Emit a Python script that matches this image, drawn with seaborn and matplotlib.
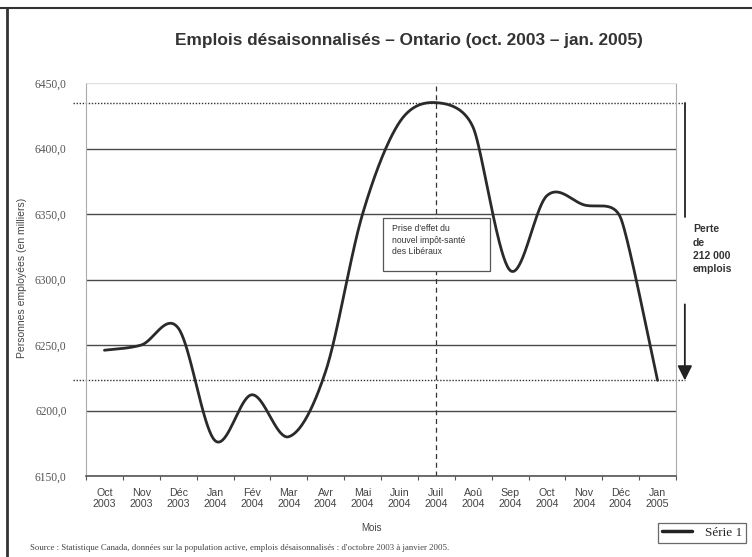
import numpy as np
import pandas as pd
import matplotlib
matplotlib.use("Agg")
import matplotlib.pyplot as plt
import matplotlib.transforms as mtransforms
from matplotlib.lines import Line2D
from matplotlib.patches import Rectangle
import seaborn as sns

# Monthly seasonally adjusted employment, Ontario (thousands)
mois = ["Oct", "Nov", "Déc", "Jan", "Fév", "Mar", "Avr", "Mai",
        "Juin", "Juil", "Aoû", "Sep", "Oct", "Nov", "Déc", "Jan"]
annees = ["2003", "2003", "2003", "2004", "2004", "2004", "2004", "2004",
          "2004", "2004", "2004", "2004", "2004", "2004", "2004", "2005"]
emplois = [6246, 6250, 6263, 6177, 6212, 6180, 6230, 6350,
           6420, 6435, 6416, 6307, 6364, 6357, 6347, 6223]
y_ticks = [6150, 6200, 6250, 6300, 6350, 6400, 6450]
sommet = 6435
fin = 6223

sns.set_theme(style="white")
plt.rcParams["font.family"] = ["Liberation Sans", "DejaVu Sans"]


def lisser(valeurs, sx=36.9, sy=1.31, pas=40):
    """Smooth Bezier curve through every point.  Control arms follow the
    neighbours (tension 1/6) but never exceed half of the shorter adjacent
    segment, measured on screen (sx, sy px per unit)."""
    v = np.asarray(valeurs, dtype=float)
    n = len(v)
    P = np.column_stack([np.arange(n) * sx, v * sy])
    ext = np.vstack([P[0], P, P[-1]])
    bras = []
    for i in range(n):
        a, p, b = ext[i], ext[i + 1], ext[i + 2]
        d02 = np.hypot(*(b - a))
        d01 = np.hypot(*(p - a))
        d12 = np.hypot(*(b - p))
        f = 1.0 / 6.0
        courts = [d for d in (d01, d12) if d > 0]
        if d02 > 0 and courts and f * d02 > min(courts) / 2:
            f = min(courts) / (2 * d02)
        bras.append(f * (b - a))
    t = np.linspace(0, 1, pas, endpoint=False)[:, None]
    morceaux = []
    for i in range(n - 1):
        p1, p2 = P[i], P[i + 1]
        b1 = p1 + bras[i]
        b2 = p2 - bras[i + 1]
        morceaux.append((1 - t) ** 3 * p1 + 3 * (1 - t) ** 2 * t * b1
                        + 3 * (1 - t) * t ** 2 * b2 + t ** 3 * p2)
    morceaux.append(P[-1][None, :])
    C = np.vstack(morceaux)
    return C[:, 0] / sx, C[:, 1] / sy


xs, ys = lisser(emplois)
courbe = pd.DataFrame({"position": xs, "emplois": ys})

fig = plt.figure(figsize=(7.52, 5.57), dpi=100)
ax = fig.add_axes([86 / 752, 81 / 557, 590 / 752, 393 / 557])

# Horizontal gridlines
for v in y_ticks:
    ax.axhline(v, color="#e0e0e0" if v == 6450 else "#4a4a4a",
               lw=1.0, zorder=1)

# Reference dotted lines for peak and last value
blend = mtransforms.blended_transform_factory(ax.transAxes, ax.transData)
for v in (sommet, fin):
    ax.plot([-0.022, 1.015], [v, v], transform=blend, color="#333333",
            lw=1.0, ls=(0, (1, 1.2)), clip_on=False, zorder=2)

# Dashed marker at July 2004
ax.axvline(9, color="#333333", lw=0.9, ls=(0, (4, 3)), zorder=2)

sns.lineplot(data=courbe, x="position", y="emplois", ax=ax, sort=False,
             estimator=None, color="#2a2a2a", lw=2.0, zorder=4, legend=False)

# Annotation box
ax.add_patch(Rectangle((7.55, 6306.5), 2.9, 40.5, facecolor="white",
                       edgecolor="#555555", lw=0.9, zorder=5))
ax.text(7.8, 6342.5, "Prise d'effet du\nnouvel impôt-santé\ndes Libéraux",
        fontsize=6.2, color="#333333", va="top", ha="left",
        linespacing=1.4, zorder=6)

# Loss arrow at right
ax.plot([1.015, 1.015], [sommet, 6347.5], transform=blend, color="#222222",
        lw=1.3, clip_on=False)
ax.annotate("", xy=(1.015, fin), xytext=(1.015, 6281),
            xycoords=blend, textcoords=blend,
            arrowprops=dict(arrowstyle="-|>", color="#222222", lw=1.3,
                            mutation_scale=22, shrinkA=0, shrinkB=0))
ax.text(1.029, 6342, "Perte\nde\n212 000\nemplois", transform=blend,
        fontsize=7.5, fontweight="bold", color="#333333", va="top",
        ha="left", linespacing=1.4)

ax.set_xlim(-0.5, 15.5)
ax.set_ylim(6150, 6450)
ax.set_yticks(y_ticks)
ax.set_yticklabels([f"{v},0" for v in y_ticks], family="Liberation Serif",
                   fontsize=8.3, color="#555555")
ax.set_xticks(range(len(mois)))
ax.set_xticklabels([f"{m}\n{a}" for m, a in zip(mois, annees)],
                   fontsize=7.7, color="#444444", linespacing=1.1)
ax.set_xticks(np.arange(-0.5, 16, 1), minor=True)
ax.tick_params(axis="x", which="major", length=0, pad=9)
ax.tick_params(axis="x", which="minor", length=3, width=0.8,
               color="#555555", direction="out", bottom=True)
ax.tick_params(axis="y", length=0, pad=14)
ax.set_xlabel("")
ax.set_ylabel("")

for side in ("left", "right"):
    ax.spines[side].set_color("#aaaaaa")
    ax.spines[side].set_linestyle((0, (1, 1)))
    ax.spines[side].set_linewidth(0.8)
ax.spines["top"].set_visible(False)
ax.spines["bottom"].set_color("#555555")
ax.spines["bottom"].set_linewidth(1.2)

fig.text(409 / 752, 1 - 40 / 557,
         "Emplois désaisonnalisés – Ontario (oct. 2003 – jan. 2005)",
         fontsize=12.4, fontweight="bold", color="#333333",
         ha="center", va="center")
fig.text(22 / 752, 1 - 278 / 557, "Personnes employées (en milliers)",
         rotation=90, fontsize=7.5, color="#444444", ha="center", va="center")
fig.text(372 / 752, 1 - 528 / 557, "Mois", fontsize=7, color="#444444",
         ha="center", va="center")
fig.text(30 / 752, 1 - 548 / 557,
         "Source : Statistique Canada, données sur la population active, "
         "emplois désaisonnalisés : d'octobre 2003 à janvier 2005.",
         family="Liberation Serif", fontsize=6.3, color="#444444",
         ha="left", va="center")

leg = fig.legend(handles=[Line2D([], [], color="#222222", lw=2.5)],
                 labels=["Série 1"], loc="upper left",
                 bbox_to_anchor=(651 / 752, 1 - 516 / 557),
                 bbox_transform=fig.transFigure, frameon=True, fancybox=False,
                 handlelength=2.3, borderpad=0.3, handletextpad=1.0,
                 prop={"family": "Liberation Serif", "size": 9.5})
leg.get_frame().set_edgecolor("#444444")
leg.get_frame().set_linewidth(0.9)

# Page border lines
fig.add_artist(Line2D([7 / 752, 7 / 752], [0, 1 - 8 / 557],
                      transform=fig.transFigure, color="#333333", lw=2))
fig.add_artist(Line2D([0, 1], [1 - 8 / 557, 1 - 8 / 557],
                      transform=fig.transFigure, color="#333333", lw=1.5))

fig.savefig("out.png", dpi=100)
